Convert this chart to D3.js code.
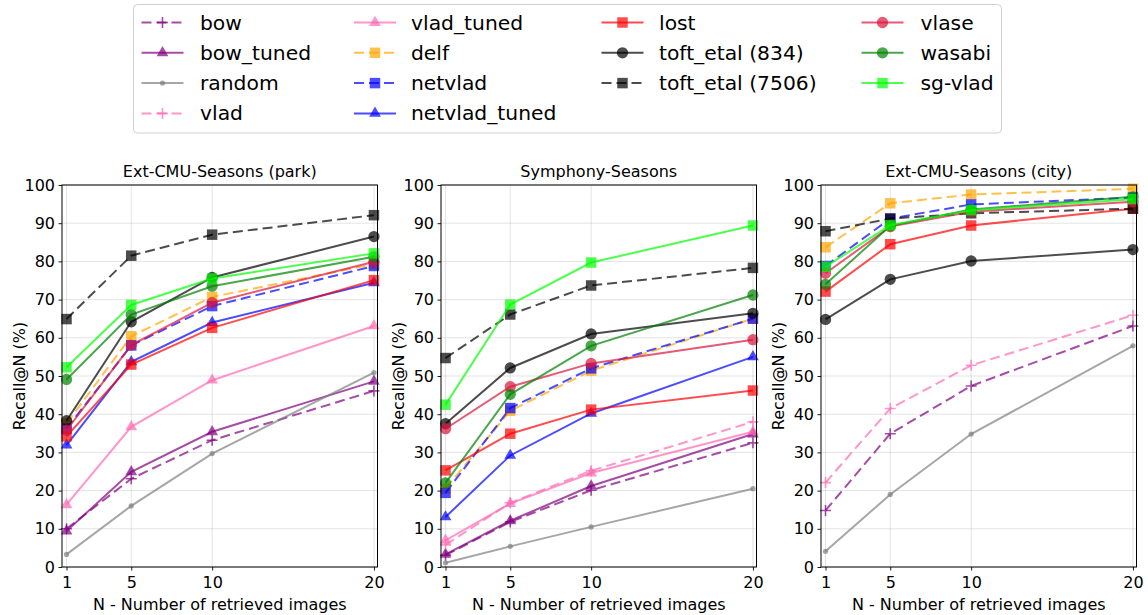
<!DOCTYPE html>
<html>
<head>
<meta charset="utf-8">
<script src="https://cdn.jsdelivr.net/npm/d3@7"></script>
<style>
  html, body { margin: 0; padding: 0; background: #fff; }
  svg { display: block; font-family: "DejaVu Sans", sans-serif; }
</style>
</head>
<body>
<svg id="chart" width="1148" height="615"></svg>
<script>
// ---------------- data ----------------
const xValues = [1, 5, 10, 20];
const xTickLabels = [1, 5, 10, 20];
const yTickLabels = [0, 10, 20, 30, 40, 50, 60, 70, 80, 90, 100];
const panelTitles = ["Ext-CMU-Seasons (park)", "Symphony-Seasons", "Ext-CMU-Seasons (city)"];
const xAxisLabel = "N - Number of retrieved images";
const yAxisLabel = "Recall@N (%)";

const seriesNames = ["bow", "bow_tuned", "random", "vlad", "vlad_tuned", "delf", "netvlad",
  "netvlad_tuned", "lost", "toft_etal (834)", "toft_etal (7506)", "vlase", "wasabi", "sg-vlad"];

// values per series (same order as seriesNames), null = not reported
const parkValues = [
  [10.0, 23.1, 33.2, 46.1],   // bow
  [9.4, 24.9, 35.4, 48.6],    // bow_tuned
  [3.3, 16.0, 29.7, 50.9],    // random
  null,                       // vlad
  [16.3, 36.7, 48.9, 63.1],   // vlad_tuned
  [37.6, 60.4, 70.7, 79.3],   // delf
  [36.2, 58.0, 68.3, 78.8],   // netvlad
  [31.9, 53.7, 64.0, 74.4],   // netvlad_tuned
  [34.2, 53.0, 62.6, 75.1],   // lost
  [38.3, 64.2, 75.8, 86.5],   // toft_etal (834)
  [64.9, 81.5, 87.0, 92.1],   // toft_etal (7506)
  [35.8, 58.1, 69.2, 79.9],   // vlase
  [49.1, 66.1, 73.5, 81.2],   // wasabi
  [52.3, 68.6, 75.5, 82.1]    // sg-vlad
];
const symphonyValues = [
  [3.1, 11.8, 20.1, 32.5],
  [3.3, 12.1, 21.2, 34.8],
  [1.1, 5.4, 10.5, 20.5],
  [5.8, 16.8, 25.2, 38.0],
  [7.0, 16.6, 24.6, 35.4],
  [20.5, 40.9, 51.4, 65.0],
  [19.4, 41.6, 52.0, 65.0],
  [13.1, 29.2, 40.2, 55.0],
  [25.3, 34.9, 41.2, 46.2],
  [37.5, 52.1, 61.0, 66.4],
  [54.7, 66.1, 73.7, 78.3],
  [36.2, 47.2, 53.3, 59.5],
  [22.0, 45.2, 57.9, 71.2],
  [42.5, 68.7, 79.7, 89.4]
];
const cityValues = [
  [14.8, 34.9, 47.4, 63.1],
  null,
  [4.1, 19.0, 34.8, 57.9],
  [22.1, 41.5, 52.8, 65.9],
  null,
  [83.7, 95.2, 97.5, 99.0],
  [78.8, 91.2, 94.9, 96.7],
  null,
  [72.1, 84.5, 89.4, 93.8],
  [64.8, 75.3, 80.1, 83.1],
  [87.9, 91.2, 92.6, 93.8],
  [76.9, 89.1, 93.0, 95.6],
  [74.0, 89.3, 93.6, 96.9],
  [78.6, 89.5, 93.4, 96.3]
];
const panelValues = [parkValues, symphonyValues, cityValues];

// ---------------- styles ----------------
const seriesColors = ["#800080", "#800080", "#808080", "#ff69b4", "#ff69b4", "#ffa500", "#0000ff",
  "#0000ff", "#ff0000", "#000000", "#000000", "#dc143c", "#008000", "#00ff00"];
const seriesDashed = [true, false, false, true, false, true, true, false, false, false, true, false, false, false];
const seriesMarkers = ["plus", "tri", "dot", "plus", "tri", "square", "square", "tri", "square", "circle",
  "square", "circle", "circle", "square"];
const ALPHA = 0.7;
const DASH = "10,5";

// ---------------- layout ----------------
const svg = d3.select("#chart");
const plotTop = 185, plotBottom = 567, plotWidth = 315.5;
const panelLefts = [62, 441, 821];
const fontSize = 16;

function drawMarker(g, type, x, y, color) {
  if (type === "plus") {
    g.append("path")
      .attr("d", `M${x - 5.5},${y}H${x + 5.5}M${x},${y - 5.5}V${y + 5.5}`)
      .attr("stroke", color).attr("stroke-width", 1.6).attr("fill", "none")
      .attr("opacity", ALPHA);
  } else {
    let sym, size;
    if (type === "square") { sym = d3.symbolSquare; size = 110; }
    else if (type === "circle") { sym = d3.symbolCircle; size = 100; }
    else if (type === "tri") { sym = d3.symbolTriangle; size = 60; }
    else { sym = d3.symbolCircle; size = 22; }
    g.append("path")
      .attr("d", d3.symbol().type(sym).size(size)())
      .attr("transform", `translate(${x},${y})`)
      .attr("fill", color).attr("opacity", ALPHA);
  }
}

panelValues.forEach((values, p) => {
  const left = panelLefts[p];
  const x = d3.scaleLinear().domain([0.72, 20.22]).range([left, left + plotWidth]);
  const y = d3.scaleLinear().domain([0, 100]).range([plotBottom, plotTop]);
  const g = svg.append("g");

  // grid
  g.append("g").selectAll("line.gy").data(yTickLabels).join("line")
    .attr("x1", left).attr("x2", left + plotWidth)
    .attr("y1", d => y(d)).attr("y2", d => y(d))
    .attr("stroke", "#b0b0b0").attr("stroke-opacity", 0.35).attr("stroke-width", 1);
  g.append("g").selectAll("line.gx").data(xTickLabels).join("line")
    .attr("x1", d => x(d)).attr("x2", d => x(d))
    .attr("y1", plotTop).attr("y2", plotBottom)
    .attr("stroke", "#b0b0b0").attr("stroke-opacity", 0.35).attr("stroke-width", 1);

  // series
  const line = d3.line().x((d, i) => x(xValues[i])).y(d => y(d));
  values.forEach((vals, s) => {
    if (!vals) return;
    const sg = g.append("g");
    sg.append("path").attr("d", line(vals))
      .attr("fill", "none").attr("stroke", seriesColors[s]).attr("stroke-width", 2)
      .attr("stroke-opacity", ALPHA)
      .attr("stroke-dasharray", seriesDashed[s] ? DASH : null);
    vals.forEach((v, i) => drawMarker(sg, seriesMarkers[s], x(xValues[i]), y(v), seriesColors[s]));
  });

  // axes
  const yAxis = d3.axisLeft(y).tickValues(yTickLabels).tickSize(3.5).tickPadding(3.5).tickFormat(d3.format("d"));
  const xAxis = d3.axisBottom(x).tickValues(xTickLabels).tickSize(3.5).tickPadding(3.5).tickFormat(d3.format("d"));
  const ya = g.append("g").attr("transform", `translate(${left},0)`).call(yAxis);
  const xa = g.append("g").attr("transform", `translate(0,${plotBottom})`).call(xAxis);
  [ya, xa].forEach(a => {
    a.select(".domain").remove();
    a.selectAll("line").attr("stroke", "#000").attr("stroke-width", 0.9);
    a.selectAll("text").attr("font-size", fontSize).attr("fill", "#000")
      .attr("font-family", "DejaVu Sans, sans-serif");
  });
  xa.selectAll("text").attr("dy", "0.85em");

  // frame
  g.append("rect").attr("x", left).attr("y", plotTop)
    .attr("width", plotWidth).attr("height", plotBottom - plotTop)
    .attr("fill", "none").attr("stroke", "#000").attr("stroke-width", 1);

  // labels
  g.append("text").attr("x", left + plotWidth / 2).attr("y", 177)
    .attr("text-anchor", "middle").attr("font-size", fontSize).text(panelTitles[p]);
  g.append("text").attr("x", left + plotWidth / 2).attr("y", 610)
    .attr("text-anchor", "middle").attr("font-size", fontSize).text(xAxisLabel);
  g.append("text")
    .attr("transform", `translate(${left - 37},${(plotTop + plotBottom) / 2}) rotate(-90)`)
    .attr("text-anchor", "middle").attr("font-size", fontSize).text(yAxisLabel);
});

// ---------------- legend ----------------
const legend = svg.append("g");
legend.append("rect").attr("x", 133.5).attr("y", 4.5).attr("width", 868).attr("height", 128.5)
  .attr("rx", 4).attr("fill", "#fff").attr("stroke", "#d0d0d0").attr("stroke-width", 1);
const colLineX = [141.5, 354, 601.5, 861.5];
const colTextX = [200, 411, 659, 920.5];
const perCol = [4, 4, 3, 3];
let idx = 0;
perCol.forEach((n, c) => {
  for (let r = 0; r < n; r++, idx++) {
    const yy = 22.5 + r * 30.3;
    const lg = legend.append("g");
    lg.append("line").attr("x1", colLineX[c]).attr("x2", colLineX[c] + 42)
      .attr("y1", yy).attr("y2", yy)
      .attr("stroke", seriesColors[idx]).attr("stroke-width", 2).attr("stroke-opacity", ALPHA)
      .attr("stroke-dasharray", seriesDashed[idx] ? DASH : null);
    drawMarker(lg, seriesMarkers[idx], colLineX[c] + 21, yy, seriesColors[idx]);
    lg.append("text").attr("x", colTextX[c]).attr("y", yy + 7)
      .attr("font-size", 20.3).text(seriesNames[idx]);
  }
});
</script>
</body>
</html>
